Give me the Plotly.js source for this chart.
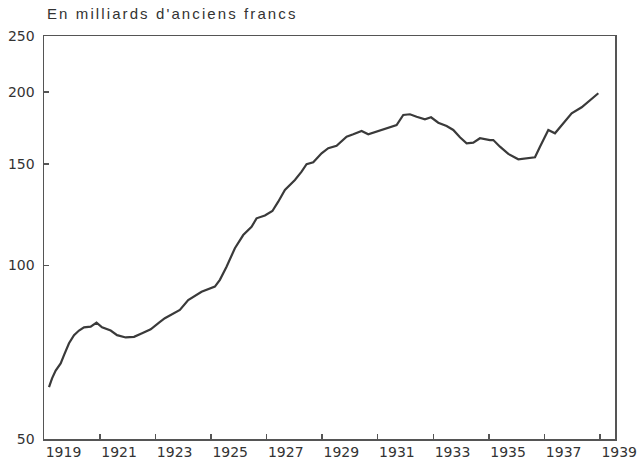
<!DOCTYPE html>
<html>
<head>
<meta charset="utf-8">
<script src="https://cdn.plot.ly/plotly-3.0.1.min.js"></script>
<style>
html,body{margin:0;padding:0;background:#fff;}
#chart{width:640px;height:462px;}
.gtitle{letter-spacing:2.1px;}
</style>
</head>
<body>
<div id="chart"></div>
<script>
const years = [1919.17,1919.28,1919.41,1919.59,1919.71,1919.89,1920.07,1920.25,1920.43,1920.67,1920.88,
1921.08,1921.39,1921.62,1921.93,1922.23,1922.52,1922.83,1923.13,1923.34,1923.88,1924.18,1924.66,
1925.14,1925.32,1925.56,1925.86,1926.16,1926.46,1926.64,1926.94,1927.21,1927.42,1927.66,1928.02,
1928.26,1928.44,1928.68,1928.98,1929.22,1929.52,1929.88,1930.12,1930.42,1930.66,1930.96,1931.26,
1931.68,1931.92,1932.16,1932.40,1932.70,1932.92,1933.18,1933.48,1933.72,1933.96,1934.20,1934.44,
1934.68,1935.04,1935.16,1935.40,1935.70,1936.06,1936.36,1936.66,1936.84,1937.14,1937.38,1937.74,
1937.98,1938.34,1938.64,1938.94];
const values = [61.5,63.7,65.7,67.6,69.9,73.3,75.7,77.1,78.1,78.3,79.6,
78.1,77.1,75.7,75.0,75.2,76.3,77.5,79.6,81.0,83.7,87.1,90.0,
91.9,94.4,99.5,107.1,112.9,116.7,120.7,122.1,124.3,129.0,135.2,140.7,
145.4,149.8,151.0,156.5,159.7,161.3,167.2,168.8,171.1,168.8,170.6,172.9,
175.2,182.4,182.9,181.1,179.3,180.7,176.8,174.5,171.8,166.8,162.9,163.3,
166.2,165.0,165.0,160.7,156.1,152.8,153.4,154.0,160.7,171.8,169.5,177.5,
183.6,188.1,193.6,198.9];
const xTicks = [1919,1921,1923,1925,1927,1929,1931,1933,1935,1937,1939];
const xTickLabels = ["1919","1921","1923","1925","1927","1929","1931","1933","1935","1937","1939"];
const yTicks = [50,100,150,200,250];
const yTickLabels = ["50","100","150","200","250"];
const titleText = "En milliards d'anciens francs";

const trace = {
  x: years, y: values, type: 'scatter', mode: 'lines',
  line: {color: '#3a3a3a', width: 2.2, shape: 'linear'},
  hoverinfo: 'skip'
};
const layout = {
  width: 640, height: 462,
  margin: {l: 44, r: 25, t: 36, b: 23, pad: 0},
  paper_bgcolor: '#fff', plot_bgcolor: '#fff',
  showlegend: false,
  title: {text: titleText, x: 47/640, xanchor: 'left', xref: 'container',
          y: 1 - 14/462, yanchor: 'middle', yref: 'container',
          font: {family: 'Liberation Sans, Arial, sans-serif', size: 15, color: '#333'}},
  xaxis: {range: [1918.99, 1939.54], tickmode: 'array', tickvals: xTicks, ticktext: xTickLabels,
          ticks: 'inside', ticklen: 5, tickwidth: 1.3, tickcolor: '#555',
          showline: true, linecolor: '#555', linewidth: 1.5, mirror: true,
          showgrid: false, zeroline: false, ticklabelposition: 'outside right',
          tickfont: {family: 'DejaVu Sans, sans-serif', size: 14, color: '#333'}},
  yaxis: {type: 'log', range: [Math.log10(50), Math.log10(250)], tickmode: 'array',
          tickvals: yTicks, ticktext: yTickLabels,
          ticks: 'inside', ticklen: 5, tickwidth: 1.3, tickcolor: '#555',
          showline: true, linecolor: '#555', linewidth: 1.5, mirror: true,
          showgrid: false, zeroline: false, ticklabelstandoff: 5,
          tickfont: {family: 'DejaVu Sans, sans-serif', size: 14, color: '#333'}}
};
Plotly.newPlot('chart', [trace], layout, {staticPlot: true, displayModeBar: false});
</script>
</body>
</html>
